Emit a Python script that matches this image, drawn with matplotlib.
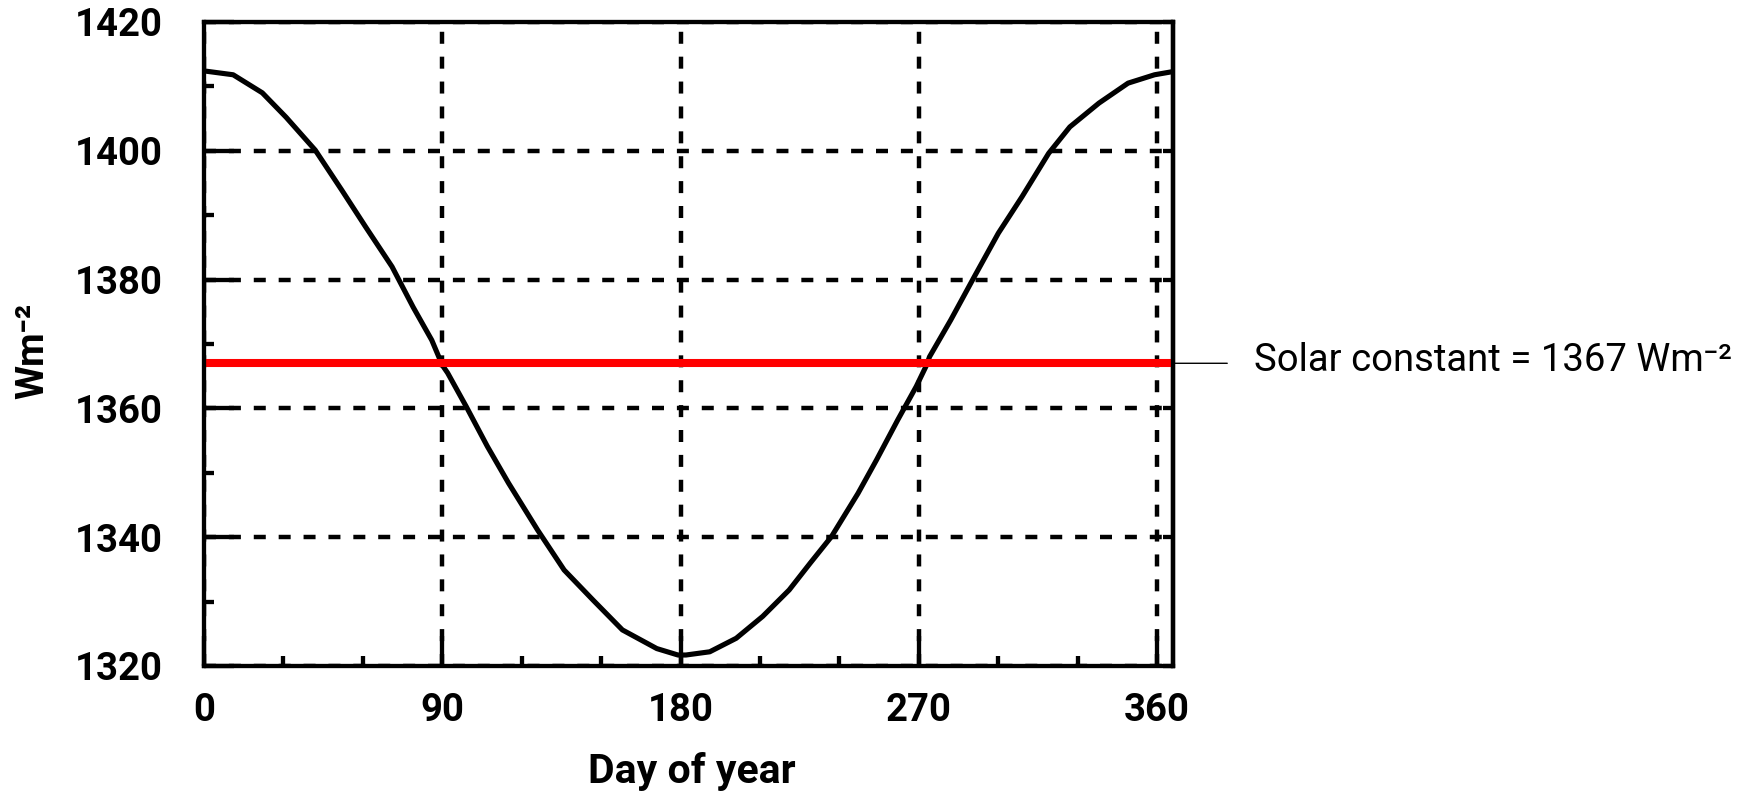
import numpy as np
import matplotlib
matplotlib.use('Agg')
import matplotlib.pyplot as plt
from matplotlib.ticker import MultipleLocator

# daily solar irradiance at top of atmosphere
day = [0, 11, 22, 31, 42, 52, 61, 71, 79, 86, 90, 92, 99, 107, 115, 126,
       136, 147, 158, 171, 179, 182, 191, 201, 211, 221, 229, 237, 247, 254,
       262, 269, 273, 274, 282, 291, 300, 309, 319, 327, 338, 349, 359, 366]
irradiance = [1412.4, 1411.8, 1409.0, 1405.2, 1400.1, 1393.9, 1388.2, 1382.0,
              1375.7, 1370.6, 1366.7, 1365.5, 1360.3, 1354.1, 1348.4, 1341.1,
              1334.9, 1330.2, 1325.6, 1322.7, 1321.7, 1321.7, 1322.2, 1324.3,
              1327.7, 1331.8, 1336.0, 1340.1, 1346.8, 1352.0, 1358.2, 1363.4,
              1366.8, 1368.0, 1373.7, 1380.5, 1387.2, 1392.9, 1399.6, 1403.7,
              1407.4, 1410.5, 1411.8, 1412.3]
solar_constant = 1367
x_ticks = [0, 90, 180, 270, 360]
y_ticks = [1320, 1340, 1360, 1380, 1400, 1420]

plt.rcParams['font.family'] = ['Roboto', 'DejaVu Sans']

fig = plt.figure(figsize=(17.59, 7.93), dpi=100)
ax = fig.add_axes([0.116, 0.1602, 0.5509, 0.8121])

# grid first so everything else sits on top
ax.grid(True, which='major', color='black', lw=3.2,
        linestyle=(0, (2.7, 2.9)), zorder=1)
ax.set_axisbelow(True)

ax.plot(day, irradiance, color='black', lw=3.7, zorder=3)
ax.axhline(solar_constant, color='#ff0000', lw=5.8, zorder=4)

ax.set_xlim(0, 366)
ax.set_ylim(1320, 1420)
ax.set_xticks(x_ticks)
ax.set_yticks(y_ticks)
ax.xaxis.set_minor_locator(MultipleLocator(30))
ax.yaxis.set_minor_locator(MultipleLocator(10))

for s in ax.spines.values():
    s.set_linewidth(3.1)
    s.set_zorder(5)

ax.tick_params(which='both', direction='in', width=3.1, color='black',
               top=False, right=False)
ax.tick_params(axis='y', which='major', length=21.6, pad=29.5,
               labelsize=27.5)
ax.tick_params(axis='x', which='major', length=21.6, pad=19,
               labelsize=27.5)
ax.tick_params(which='minor', length=7.2)
for lab in ax.get_xticklabels() + ax.get_yticklabels():
    lab.set_fontweight('bold')

# short ticks on the right spine
sec = ax.secondary_yaxis('right')
sec.set_yticks(y_ticks)
sec.tick_params(direction='in', length=7.2, width=3.1, labelright=False)
sec.spines['right'].set_linewidth(3.1)

ax.set_xlabel('Day of year', fontsize=29.5, fontweight='bold')
ax.xaxis.set_label_coords(0.5036, -0.134)
ax.set_ylabel('Wm⁻²', fontsize=28, fontweight='bold')
ax.yaxis.set_label_coords(-0.158, 0.49)

# leader line and label for the solar constant
ax.annotate('', xy=(366, solar_constant), xytext=(39, 0),
            textcoords='offset points', annotation_clip=False,
            arrowprops=dict(arrowstyle='-', lw=1.0, shrinkA=0, shrinkB=0,
                            color='black'))
ax.annotate('Solar constant = 1367 Wm⁻²', xy=(366, solar_constant),
            xytext=(58, -5.6), textcoords='offset points', va='baseline',
            ha='left', fontsize=27.5, annotation_clip=False)

fig.savefig('out.png', dpi=100)
